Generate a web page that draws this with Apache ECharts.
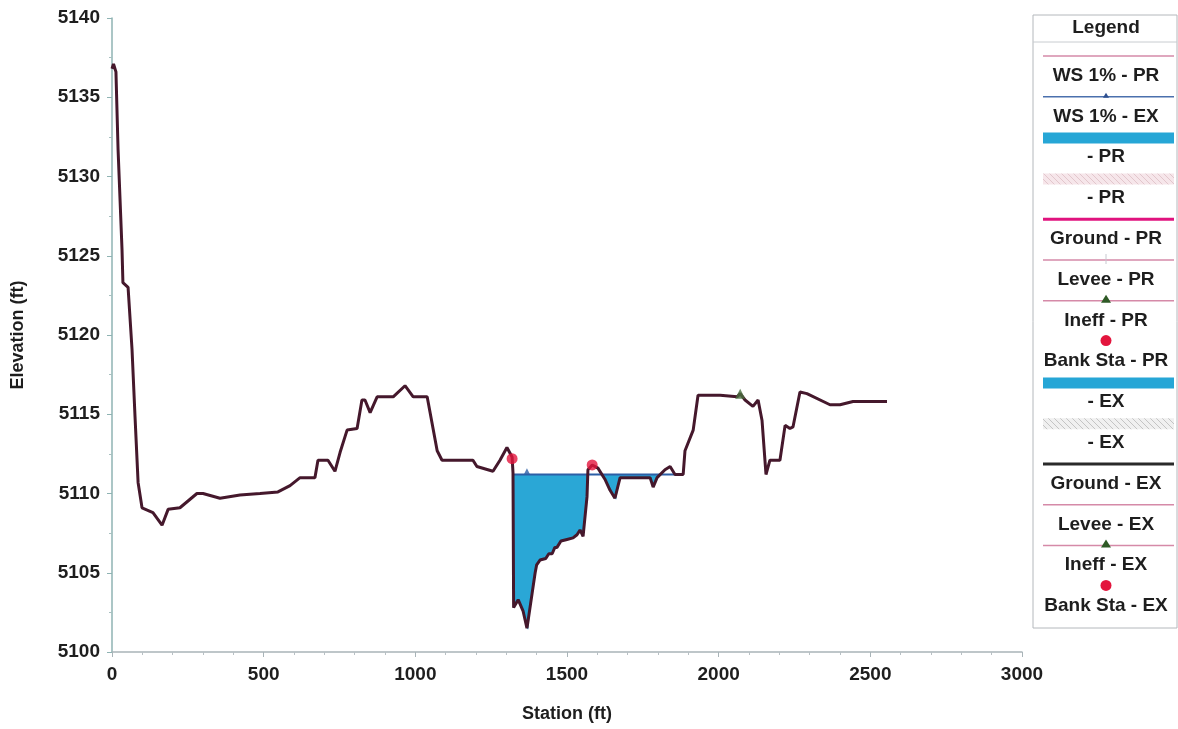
<!DOCTYPE html>
<html>
<head>
<meta charset="utf-8">
<script src="https://cdn.jsdelivr.net/npm/echarts@6/dist/echarts.min.js"></script>
<style>html,body{margin:0;padding:0;background:#fff;}#c{width:1178px;height:729px;}</style>
</head>
<body>
<div id="c"></div>
<script>
// ---- data ----
var groundStation = [0, 5, 13, 20, 33, 36, 53, 66, 76, 86, 99, 135, 165, 185, 224, 280, 300, 356, 422, 488, 547, 587, 620, 669, 679, 712, 735, 752, 775, 808, 824, 834, 851, 874, 927, 966, 993, 1039, 1072, 1088, 1190, 1203, 1256, 1279, 1302, 1319, 1322, 1324, 1339, 1355, 1368, 1372, 1385, 1395, 1400, 1411, 1430, 1440, 1451, 1460, 1467, 1480, 1500, 1520, 1533, 1543, 1553, 1566, 1569, 1583, 1602, 1625, 1642, 1658, 1662, 1675, 1698, 1774, 1784, 1797, 1823, 1840, 1856, 1883, 1889, 1916, 1932, 2005, 2061, 2071, 2087, 2113, 2130, 2143, 2156, 2169, 2202, 2219, 2235, 2245, 2268, 2291, 2367, 2400, 2443, 2555];
var groundElev = [5136.8, 5137.1, 5136.6, 5131.7, 5125.4, 5123.3, 5123.0, 5119.1, 5114.8, 5110.7, 5109.1, 5108.8, 5108.0, 5109.0, 5109.1, 5110.0, 5110.0, 5109.7, 5109.9, 5110.0, 5110.1, 5110.5, 5111.0, 5111.0, 5112.1, 5112.1, 5111.4, 5112.6, 5114.0, 5114.1, 5115.9, 5115.9, 5115.1, 5116.1, 5116.1, 5116.8, 5116.1, 5116.1, 5112.7, 5112.1, 5112.1, 5111.7, 5111.4, 5112.1, 5112.9, 5112.3, 5111.3, 5102.8, 5103.3, 5102.6, 5101.5, 5101.4, 5103.7, 5105.0, 5105.5, 5105.8, 5105.9, 5106.2, 5106.2, 5106.6, 5106.6, 5107.0, 5107.1, 5107.2, 5107.4, 5107.7, 5107.3, 5109.8, 5111.5, 5111.8, 5111.6, 5110.9, 5110.2, 5109.7, 5109.6, 5111.0, 5111.0, 5111.0, 5110.4, 5111.0, 5111.5, 5111.7, 5111.2, 5111.2, 5112.7, 5114.0, 5116.2, 5116.2, 5116.1, 5116.3, 5115.9, 5115.5, 5115.9, 5114.6, 5111.2, 5112.1, 5112.1, 5114.3, 5114.1, 5114.2, 5116.4, 5116.3, 5115.6, 5115.6, 5115.8, 5115.8];
var wsStation = [1322, 1883];
var wsElev = [5111.2, 5111.2];
var wsMarkStation = [1368];
var wsMarkElev = [5111.4];
var bankStation = [1319, 1583];
var bankElev = [5112.2, 5111.8];
var ineffStation = [2071];
var ineffElev = [5116.3];
var xTicks = {min: 0, max: 3000, interval: 500};
var yTicks = {min: 5100, max: 5140, interval: 5};
var legendTitle = 'Legend';
var legendLabels = ['WS 1% - PR', 'WS 1% - EX', '- PR', '- PR', 'Ground - PR', 'Levee - PR', 'Ineff - PR', 'Bank Sta - PR', '- EX', '- EX', 'Ground - EX', 'Levee - EX', 'Ineff - EX', 'Bank Sta - EX'];
var legendKinds = ['pinkline', 'blueline', 'bluebar', 'pinkhatch', 'magentaline', 'levee', 'ineff', 'bank', 'bluebar', 'grayhatch', 'blackline', 'pinkline', 'ineff', 'bank'];

// ---- derived ----
function zip(a, b) { return a.map(function (v, i) { return [v, b[i]]; }); }
var groundData = zip(groundStation, groundElev);

// water fill polygon: ground clipped to WS between WS stations
function fillPolygon() {
  var s0 = wsStation[0], s1 = wsStation[1], w = wsElev[0];
  var pts = [[s0, w]];
  for (var i = 0; i < groundStation.length; i++) {
    var s = groundStation[i], gg = groundElev[i];
    if (s < s0 || s > s1) continue;
    if (i > 0 && groundStation[i - 1] >= s0) {
      var ps = groundStation[i - 1], pg = groundElev[i - 1];
      if ((pg - w) * (gg - w) < 0) {
        var t = (w - pg) / (gg - pg);
        pts.push([ps + t * (s - ps), w]);
      }
    }
    pts.push([s, Math.min(gg, w)]);
  }
  pts.push([s1, w]);
  return pts;
}
var fillPts = fillPolygon();

function hatch(bg, fg) {
  var c = document.createElement('canvas');
  c.width = 6; c.height = 6;
  var x = c.getContext('2d');
  x.fillStyle = bg; x.fillRect(0, 0, 6, 6);
  x.strokeStyle = fg; x.lineWidth = 1;
  x.beginPath(); x.moveTo(0, 0); x.lineTo(6, 6); x.moveTo(-3, 3); x.lineTo(3, 9); x.moveTo(3, -3); x.lineTo(9, 3); x.stroke();
  return {image: c, repeat: 'repeat'};
}

// ---- legend graphics ----
var FONT = '"Liberation Sans", Arial, sans-serif';
var LX = 1033, LW = 144, LTOP = 15, LH = 613;
var cx = LX + LW / 2 + 1;
var g = [];
g.push({type: 'rect', shape: {x: LX, y: LTOP, width: LW, height: LH}, style: {fill: '#fff', stroke: '#b4b8bc', lineWidth: 1}});
g.push({type: 'line', shape: {x1: LX, y1: 42, x2: LX + LW, y2: 42}, style: {stroke: '#c8ccd0', lineWidth: 1}});
g.push({type: 'text', x: cx, y: 28, style: {text: legendTitle, font: 'bold 19px ' + FONT, fill: '#1e1e1e', align: 'center', verticalAlign: 'middle'}});
var x1 = LX + 10, x2 = LX + LW - 3;
for (var i = 0; i < legendLabels.length; i++) {
  var sy = 56 + i * 40.8, ty = sy + 19.5;
  var k = legendKinds[i];
  if (k === 'pinkline' || k === 'levee' || k === 'ineff') {
    g.push({type: 'line', shape: {x1: x1, y1: sy, x2: x2, y2: sy}, style: {stroke: '#d58aa8', lineWidth: 1.5}});
    if (k === 'levee') g.push({type: 'line', shape: {x1: cx, y1: sy - 6, x2: cx, y2: sy + 4}, style: {stroke: '#c8c8d0', lineWidth: 1}});
    if (k === 'ineff') g.push({type: 'polygon', shape: {points: [[cx, sy - 6], [cx - 5, sy + 2], [cx + 5, sy + 2]]}, style: {fill: '#2f5a26'}});
  } else if (k === 'blueline') {
    g.push({type: 'line', shape: {x1: x1, y1: sy, x2: x2, y2: sy}, style: {stroke: '#4b70ad', lineWidth: 1.5}});
    g.push({type: 'polygon', shape: {points: [[cx, sy - 4], [cx - 3, sy + 1], [cx + 3, sy + 1]]}, style: {fill: '#2d4f8f'}});
  } else if (k === 'bluebar') {
    g.push({type: 'rect', shape: {x: x1, y: sy - 5, width: x2 - x1, height: 11}, style: {fill: '#26a6d6'}});
  } else if (k === 'pinkhatch') {
    g.push({type: 'rect', shape: {x: x1, y: sy - 5, width: x2 - x1, height: 11}, style: {fill: hatch('#f6e6ea', '#e2c6cc')}});
  } else if (k === 'grayhatch') {
    g.push({type: 'rect', shape: {x: x1, y: sy - 5, width: x2 - x1, height: 11}, style: {fill: hatch('#f0f0f0', '#c4c4c4')}});
  } else if (k === 'magentaline') {
    g.push({type: 'line', shape: {x1: x1, y1: sy, x2: x2, y2: sy}, style: {stroke: '#e0137e', lineWidth: 3}});
  } else if (k === 'blackline') {
    g.push({type: 'line', shape: {x1: x1, y1: sy, x2: x2, y2: sy}, style: {stroke: '#2a2a2a', lineWidth: 3}});
  } else if (k === 'bank') {
    g.push({type: 'circle', shape: {cx: cx, cy: sy - 1, r: 5.5}, style: {fill: '#e3153d'}});
  }
  g.push({type: 'text', x: cx, y: ty, style: {text: legendLabels[i], font: 'bold 19px ' + FONT, fill: '#1e1e1e', align: 'center', verticalAlign: 'middle'}});
}

var chart = echarts.init(document.getElementById('c'), null, {renderer: 'canvas'});
var labelFont = {fontFamily: FONT, fontWeight: 'bold', fontSize: 19, color: '#1e1e1e'};
function plain(v) { return String(v); }
chart.setOption({
  animation: false,
  backgroundColor: '#fff',
  grid: {left: 112, right: 156, top: 18, bottom: 77, containLabel: false},
  xAxis: {
    type: 'value', min: xTicks.min, max: xTicks.max, interval: xTicks.interval,
    name: 'Station (ft)', nameLocation: 'middle', nameGap: 53,
    nameTextStyle: {fontFamily: FONT, fontWeight: 'bold', fontSize: 18, color: '#1e1e1e'},
    axisLine: {show: true, onZero: false, lineStyle: {color: '#a9b4b8', width: 1.5}},
    axisTick: {show: true, inside: false, length: 5, lineStyle: {color: '#a9b4b8'}},
    minorTick: {show: true, splitNumber: 5, length: 3, lineStyle: {color: '#b8c0c4'}},
    axisLabel: Object.assign({margin: 13, formatter: plain}, labelFont),
    splitLine: {show: false}
  },
  yAxis: {
    type: 'value', min: yTicks.min, max: yTicks.max, interval: yTicks.interval,
    name: 'Elevation (ft)', nameLocation: 'middle', nameGap: 85, nameRotate: 90,
    nameTextStyle: {fontFamily: FONT, fontWeight: 'bold', fontSize: 18, color: '#1e1e1e'},
    axisLine: {show: true, onZero: false, lineStyle: {color: '#8fb3b3', width: 1.5}},
    axisTick: {show: true, inside: false, length: 5, lineStyle: {color: '#8fb3b3'}},
    minorTick: {show: true, splitNumber: 2, length: 3, lineStyle: {color: '#a8c0c0'}},
    axisLabel: Object.assign({margin: 12, formatter: plain}, labelFont),
    splitLine: {show: false}
  },
  series: [
    {
      name: 'fill', type: 'custom', z: 2, silent: true,
      data: [0],
      renderItem: function (params, api) {
        var pts = fillPts.map(function (p) { return api.coord(p); });
        return {type: 'polygon', shape: {points: pts}, style: {fill: '#2aa7d6', stroke: null}};
      }
    },
    {
      name: 'WS 1% - EX', type: 'line', z: 3, data: zip(wsStation, wsElev),
      symbol: 'none', lineStyle: {color: '#2d5fa6', width: 2}
    },
    {
      name: 'WS mark', type: 'scatter', z: 3, data: zip(wsMarkStation, wsMarkElev),
      symbol: 'triangle', symbolSize: 6, itemStyle: {color: '#2d5fa6'}
    },
    {
      name: 'Ground - EX', type: 'line', z: 4, data: groundData,
      symbol: 'none', lineStyle: {color: '#45182c', width: 3}
    },
    {
      name: 'Bank Sta', type: 'scatter', z: 5, data: zip(bankStation, bankElev),
      symbol: 'circle', symbolSize: 11, itemStyle: {color: '#e3153d'}
    },
    {
      name: 'Ineff', type: 'scatter', z: 5, data: zip(ineffStation, ineffElev),
      symbol: 'triangle', symbolSize: 10, itemStyle: {color: '#4a7040'}
    }
  ],
  graphic: g
});
</script>
</body>
</html>
